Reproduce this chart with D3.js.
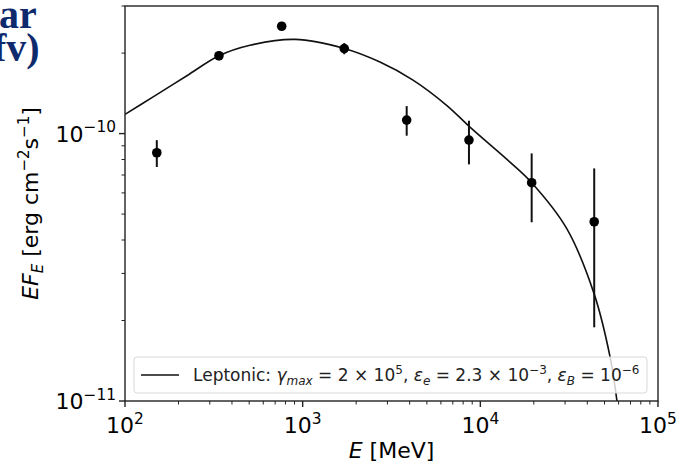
<!DOCTYPE html>
<html lang="en">

<head>
  <meta charset="UTF-8">
  <title>Leptonic SED fit</title>
  <script src="https://d3js.org/d3.v7.min.js"></script>
  <style>
    body {
      margin: 0;
      background: #fff;
      font-family: "DejaVu Sans", sans-serif;
    }

    .tick-label {
      font-size: 22px;
      fill: #000;
    }

    .frame {
      fill: none;
      stroke: #222;
      stroke-width: 1.4px;
    }
  </style>
</head>

<body>
  <div id="chart"></div>

  <script>
    // Data points (E in MeV, EF_E in erg cm^-2 s^-1)
    const energies = [151, 338, 762, 1714, 3850, 8630, 19450, 43750];
    const fluxes = [8.48e-11, 1.955e-10, 2.52e-10, 2.08e-10, 1.123e-10, 9.46e-11, 6.55e-11, 4.68e-11];
    const fluxLow = [7.5e-11, 1.88e-10, 2.44e-10, 1.98e-10, 9.82e-11, 7.67e-11, 4.66e-11, 1.886e-11];
    const fluxHigh = [9.45e-11, 2.03e-10, 2.61e-10, 2.18e-10, 1.267e-10, 1.117e-10, 8.43e-11, 7.41e-11];

    // Model curve sampled from the figure
    const modelE = [100, 144, 223, 338, 505, 906, 1714, 2723, 4180, 6486, 8745, 14690, 19450, 30600, 43750, 53680, 58750, 61900];
    const modelF = [1.18e-10, 1.372e-10, 1.646e-10, 1.955e-10, 2.14e-10, 2.25e-10, 2.08e-10, 1.851e-10, 1.585e-10, 1.273e-10, 1.057e-10, 7.82e-11, 6.55e-11, 4.42e-11, 2.51e-11, 1.465e-11, 1.0e-11, 7.15e-12];

    const xTicks = [1e2, 1e3, 1e4, 1e5];
    const yTicks = [1e-11, 1e-10];

    const width = 683;
    const height = 465;
    const margin = { top: 6, right: 25, bottom: 64, left: 125 };

    const svg = d3.select("#chart")
      .append("svg")
      .attr("width", width)
      .attr("height", height);

    const x = d3.scaleLog()
      .domain([1e2, 1e5])
      .range([margin.left, width - margin.right]);

    const y = d3.scaleLog()
      .domain([1e-11, 3e-10])
      .range([height - margin.bottom, margin.top]);

    // helper: "10" with a superscript exponent
    function powerLabel(sel, exp, size) {
      sel.append("tspan").text("10");
      sel.append("tspan")
        .attr("dy", -size * 0.42)
        .style("font-size", (size * 0.7) + "px")
        .text(exp < 0 ? "\u2212" + (-exp) : exp);
    }

    svg.append("clipPath")
      .attr("id", "plot-clip")
      .append("rect")
      .attr("x", margin.left)
      .attr("y", margin.top)
      .attr("width", x.range()[1] - margin.left)
      .attr("height", y.range()[0] - margin.top);

    // x axis ticks
    const xAxis = svg.append("g")
      .attr("transform", `translate(0,${y.range()[0]})`);
    const xMinor = x.ticks().filter(t => !xTicks.includes(t));
    xAxis.selectAll(".minor")
      .data(xMinor)
      .enter()
      .append("line")
      .attr("x1", d => x(d)).attr("x2", d => x(d))
      .attr("y1", 0).attr("y2", 3.5)
      .attr("stroke", "#222").attr("stroke-width", 1);
    xAxis.selectAll(".major")
      .data(xTicks)
      .enter()
      .append("line")
      .attr("x1", d => x(d)).attr("x2", d => x(d))
      .attr("y1", 0).attr("y2", 6)
      .attr("stroke", "#222").attr("stroke-width", 1.4);
    xAxis.selectAll(".xlab")
      .data(xTicks)
      .enter()
      .append("text")
      .attr("class", "tick-label")
      .attr("x", d => x(d))
      .attr("y", 32)
      .attr("text-anchor", "middle")
      .each(function (d) { powerLabel(d3.select(this), Math.round(Math.log10(d)), 22); });

    // y axis ticks
    const yAxis = svg.append("g")
      .attr("transform", `translate(${margin.left},0)`);
    const yMinor = y.ticks().filter(t => !yTicks.some(v => Math.abs(v - t) / v < 1e-6));
    yAxis.selectAll(".minor")
      .data(yMinor)
      .enter()
      .append("line")
      .attr("x1", -3.5).attr("x2", 0)
      .attr("y1", d => y(d)).attr("y2", d => y(d))
      .attr("stroke", "#222").attr("stroke-width", 1);
    yAxis.selectAll(".major")
      .data(yTicks)
      .enter()
      .append("line")
      .attr("x1", -6).attr("x2", 0)
      .attr("y1", d => y(d)).attr("y2", d => y(d))
      .attr("stroke", "#222").attr("stroke-width", 1.4);
    yAxis.selectAll(".ylab")
      .data(yTicks)
      .enter()
      .append("text")
      .attr("class", "tick-label")
      .attr("x", -9)
      .attr("y", d => y(d) + 8)
      .attr("text-anchor", "end")
      .each(function (d) { powerLabel(d3.select(this), Math.round(Math.log10(d)), 22); });

    // model curve
    const line = d3.line()
      .x((d, i) => x(modelE[i]))
      .y(d => y(d))
      .curve(d3.curveCatmullRom.alpha(0.5));

    svg.append("path")
      .datum(modelF)
      .attr("clip-path", "url(#plot-clip)")
      .attr("fill", "none")
      .attr("stroke", "#111")
      .attr("stroke-width", 1.6)
      .attr("d", line);

    // error bars and markers
    const pts = svg.append("g");
    pts.selectAll("line")
      .data(energies)
      .enter()
      .append("line")
      .attr("x1", d => x(d)).attr("x2", d => x(d))
      .attr("y1", (d, i) => y(fluxLow[i]))
      .attr("y2", (d, i) => y(fluxHigh[i]))
      .attr("stroke", "#111")
      .attr("stroke-width", 2);
    pts.selectAll("circle")
      .data(energies)
      .enter()
      .append("circle")
      .attr("cx", d => x(d))
      .attr("cy", (d, i) => y(fluxes[i]))
      .attr("r", 4.8)
      .attr("fill", "#000");

    // legend
    const lg = svg.append("g");
    lg.append("rect")
      .attr("x", 134).attr("y", 357)
      .attr("width", 513).attr("height", 36)
      .attr("rx", 3)
      .attr("fill", "rgba(255,255,255,0.8)")
      .attr("stroke", "#d8d8d8")
      .attr("stroke-width", 1);
    lg.append("line")
      .attr("x1", 141).attr("x2", 179)
      .attr("y1", 375).attr("y2", 375)
      .attr("stroke", "#111").attr("stroke-width", 1.6);
    const lt = lg.append("text")
      .attr("x", 193).attr("y", 381)
      .style("font-size", "17px")
      .attr("fill", "#222");
    const sub = (t) => lt.append("tspan").attr("dy", 4).style("font-size", "12px").style("font-style", "italic").text(t);
    const sup = (t) => lt.append("tspan").attr("dy", -7.5).style("font-size", "12px").text(t);
    const txt = (t, dy) => lt.append("tspan").attr("dy", dy || 0).text(t);
    txt("Leptonic: ");
    lt.append("tspan").style("font-style", "italic").text("\u03b3");
    sub("max");
    txt(" = 2 \u00d7 10", -4);
    sup("5");
    txt(", ", 7.5);
    lt.append("tspan").style("font-style", "italic").text("\u03b5");
    sub("e");
    txt(" = 2.3 \u00d7 10", -4);
    sup("\u22123");
    txt(", ", 7.5);
    lt.append("tspan").style("font-style", "italic").text("\u03b5");
    sub("B");
    txt(" = 10", -4);
    sup("\u22126");

    // frame
    svg.append("rect")
      .attr("class", "frame")
      .attr("x", margin.left)
      .attr("y", margin.top)
      .attr("width", x.range()[1] - margin.left)
      .attr("height", y.range()[0] - margin.top);

    // axis titles
    const xt = svg.append("text")
      .attr("x", (x.range()[0] + x.range()[1]) / 2)
      .attr("y", 458)
      .attr("text-anchor", "middle")
      .style("font-size", "22px");
    xt.append("tspan").style("font-style", "italic").text("E");
    xt.append("tspan").text(" [MeV]");

    const yt = svg.append("text")
      .attr("transform", `translate(38,${(y.range()[0] + y.range()[1]) / 2}) rotate(-90)`)
      .attr("text-anchor", "middle")
      .style("font-size", "22px");
    yt.append("tspan").style("font-style", "italic").text("EF");
    yt.append("tspan").attr("dy", 5).style("font-size", "15px").style("font-style", "italic").text("E");
    yt.append("tspan").attr("dy", -5).text(" [erg cm");
    yt.append("tspan").attr("dy", -9).style("font-size", "15px").text("\u22122");
    yt.append("tspan").attr("dy", 9).text("s");
    yt.append("tspan").attr("dy", -9).style("font-size", "15px").text("\u22121");
    yt.append("tspan").attr("dy", 9).text("]");

    // slide text fragments cut off at the top-left
    const slide = svg.append("g")
      .style("font-family", "'Liberation Serif', serif")
      .style("font-weight", "bold")
      .style("font-size", "40px")
      .attr("fill", "#0e2a6c");
    slide.append("text").attr("x", -1).attr("y", 28).text("ar");
    slide.append("text").attr("x", -7).attr("y", 61).text("fv)");
  </script>
</body>

</html>
